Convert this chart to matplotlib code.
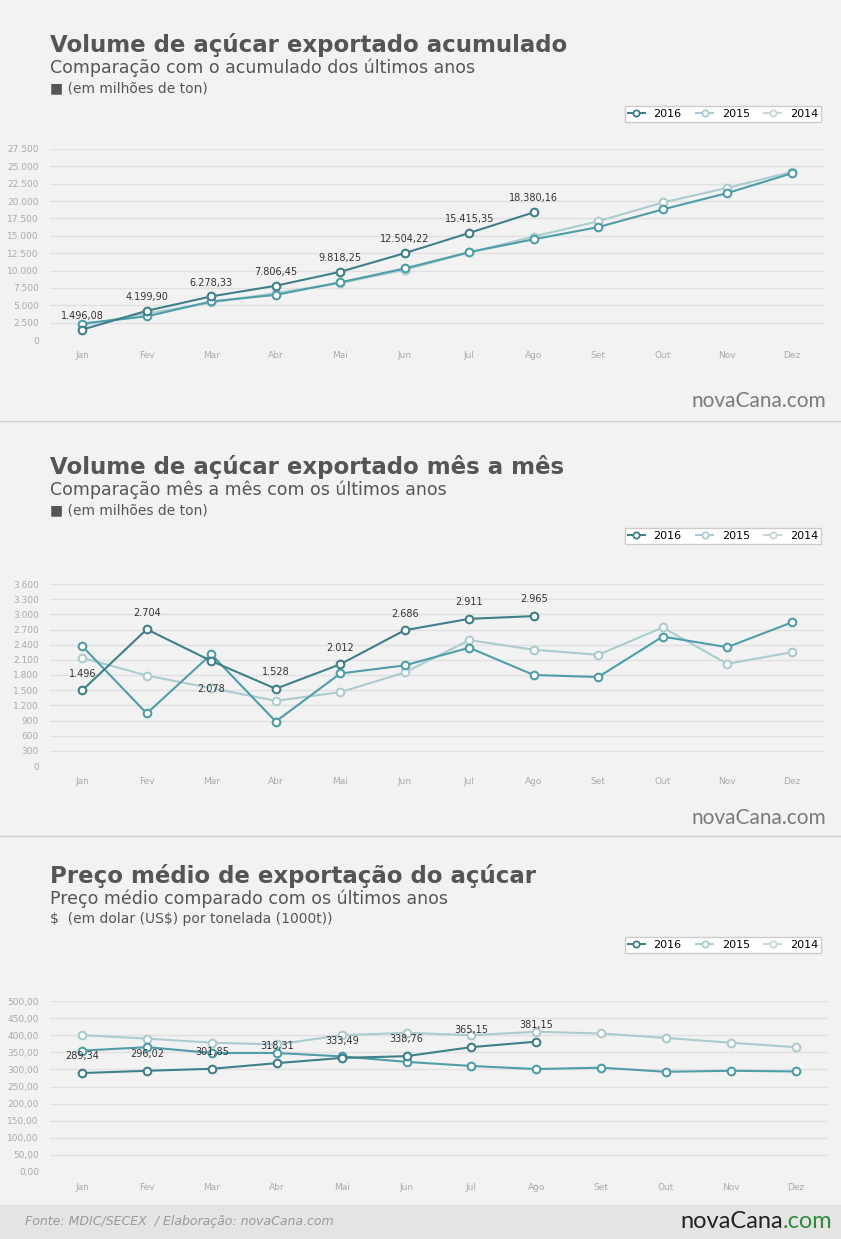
import matplotlib
matplotlib.use("Agg")
import matplotlib.pyplot as plt
from matplotlib.lines import Line2D

months = ["Jan","Fev","Mar","Abr","Mai","Jun","Jul","Ago","Set","Out","Nov","Dez"]
years = ["2016","2015","2014"]

acc_2016 = [1496.08, 4199.90, 6278.33, 7806.45, 9818.25, 12504.22, 15415.35, 18380.16]
acc_2015 = [2370, 3400, 5550, 6500, 8300, 10300, 12650, 14500, 16250, 18800, 21150, 24000]
acc_2014 = [2140, 3800, 5400, 6750, 8200, 10100, 12600, 14900, 17100, 19800, 21900, 24200]
acc_labels = ["1.496,08","4.199,90","6.278,33","7.806,45","9.818,25","12.504,22","15.415,35","18.380,16"]
acc_ticks = [0,2500,5000,7500,10000,12500,15000,17500,20000,22500,25000,27500]
acc_ticklabels = ["0","2.500","5.000","7.500","10.000","12.500","15.000","17.500","20.000","22.500","25.000","27.500"]

mon_2016 = [1496, 2704, 2078, 1528, 2012, 2686, 2911, 2965]
mon_2015 = [2370, 1040, 2210, 880, 1830, 1990, 2340, 1800, 1760, 2560, 2350, 2840]
mon_2014 = [2140, 1790, 1540, 1290, 1460, 1850, 2490, 2300, 2200, 2740, 2020, 2250]
mon_labels = ["1.496","2.704","2.078","1.528","2.012","2.686","2.911","2.965"]
mon_ticks = list(range(0, 3601, 300))
mon_ticklabels = ["0","300","600","900","1.200","1.500","1.800","2.100","2.400","2.700","3.000","3.300","3.600"]

pr_2016 = [289.34, 296.02, 301.85, 318.31, 333.49, 338.76, 365.15, 381.15]
pr_2015 = [355, 365, 348, 348, 338, 322, 310, 301, 305, 293, 296, 294]
pr_2014 = [400, 390, 378, 373, 400, 407, 400, 410, 405, 392, 378, 365]
pr_labels = ["289,34","296,02","301,85","318,31","333,49","338,76","365,15","381,15"]
pr_ticks = list(range(0, 501, 50))
pr_ticklabels = ["%d,00" % t for t in pr_ticks]

W, H = 841, 1239
fig = plt.figure(figsize=(W/100, H/100), dpi=100)
fig.patch.set_facecolor("#f2f2f2")
C16, C15, C14 = "#3e7f8a", "#4e9da8", "#abcbcf"
TXT = "#555555"

def fx(px): return px / W
def fy(py): return 1 - py / H

for y in [421, 836]:
    fig.add_artist(Line2D([0, 1], [fy(y), fy(y)], color="#d0d0d0", lw=1))
fig.patches.append(plt.Rectangle((0, 0), 1, fy(1205), transform=fig.transFigure,
                                 color="#e4e4e4", zorder=0))

def panel(top, title, sub, unit, ax_box, ylim, ticks, ticklabels, s16, s15, s14, labels,
          lab_off, watermark):
    fig.text(fx(50), fy(top), title, fontsize=16.5, fontweight="bold", color=TXT, va="center")
    fig.text(fx(50), fy(top + 23), sub, fontsize=12.5, color=TXT, va="center")
    fig.text(fx(50), fy(top + 43), unit, fontsize=10, color=TXT, va="center")
    l, t, r, b = ax_box
    ax = fig.add_axes([fx(l), fy(b), fx(r) - fx(l), fy(t) - fy(b)])
    ax.set_facecolor("#f2f2f2")
    for sp in ax.spines.values():
        sp.set_visible(False)
    ax.set_xlim(-0.5, 11.5)
    ax.set_ylim(*ylim)
    ax.set_yticks(ticks)
    ax.set_yticklabels(ticklabels)
    ax.set_xticks(range(12))
    ax.set_xticklabels(months)
    ax.tick_params(length=0, labelsize=6.5, colors="#aaaaaa", pad=8)
    ax.grid(axis="y", color="#e0e0e0", lw=1)
    ax.set_axisbelow(True)
    mk = dict(marker="o", markersize=5.5, markerfacecolor="white", markeredgewidth=1.5, clip_on=False)
    ax.plot(range(12), s14, color=C14, lw=1.5, markeredgecolor=C14, **mk)
    ax.plot(range(12), s15, color=C15, lw=1.5, markeredgecolor=C15, **mk)
    ax.plot(range(len(s16)), s16, color=C16, lw=1.5, markeredgecolor=C16, **mk)
    for i, (v, s) in enumerate(zip(s16, labels)):
        dy = lab_off[i] if isinstance(lab_off, list) else lab_off
        ax.annotate(s, (i, v), xytext=(0, dy), textcoords="offset points", ha="center",
                    va="center", fontsize=7, color="#333333")
    handles = [Line2D([], [], color=c, lw=1.5, marker="o", markersize=4.5, markerfacecolor="white",
                      markeredgecolor=c, markeredgewidth=1.3) for c in [C16, "#a8cdd2", "#c9d6d8"]]
    fig.legend(handles, years, loc="upper right", bbox_to_anchor=(fx(827), fy(top + 55)), ncol=3,
               frameon=True, fontsize=8, handlelength=1.5, columnspacing=1.3, borderpad=0.3,
               fancybox=False, edgecolor="#cccccc", facecolor="white", framealpha=1)
    if watermark:
        fig.text(fx(826), fy(watermark), "novaCana.com", fontsize=15, color="#7a7a7a",
                 ha="right", va="center", family="Lato")
    return ax

panel(45, "Volume de açúcar exportado acumulado", "Comparação com o acumulado dos últimos anos",
      "■ (em milhões de ton)", (50, 149, 824, 340), (0, 27500), acc_ticks, acc_ticklabels,
      acc_2016, acc_2015, acc_2014, acc_labels, 10, 401)
panel(467, "Volume de açúcar exportado mês a mês", "Comparação mês a mês com os últimos anos",
      "■ (em milhões de ton)", (50, 584, 824, 766), (0, 3600), mon_ticks, mon_ticklabels,
      mon_2016, mon_2015, mon_2014, mon_labels, [12, 12, -20, 12, 12, 12, 12, 12], 818)
panel(876, "Preço médio de exportação do açúcar", "Preço médio comparado com os últimos anos",
      r"\$  (em dolar (US\$) por tonelada (1000t))", (50, 1001, 828, 1172), (0, 500), pr_ticks,
      pr_ticklabels, pr_2016, pr_2015, pr_2014, pr_labels, 12, None)

fig.text(fx(25), fy(1222), "Fonte: MDIC/SECEX  / Elaboração: novaCana.com", fontsize=9,
         style="italic", color="#999999", va="center")
fig.text(fx(783), fy(1222), "novaCana", fontsize=17, color="#222222", ha="right",
         va="center", family="Lato")
fig.text(fx(783), fy(1222), ".com", fontsize=17, color="#2e8b3a", ha="left", va="center",
         family="Lato")

fig.savefig("out.png", dpi=100, facecolor=fig.get_facecolor())
